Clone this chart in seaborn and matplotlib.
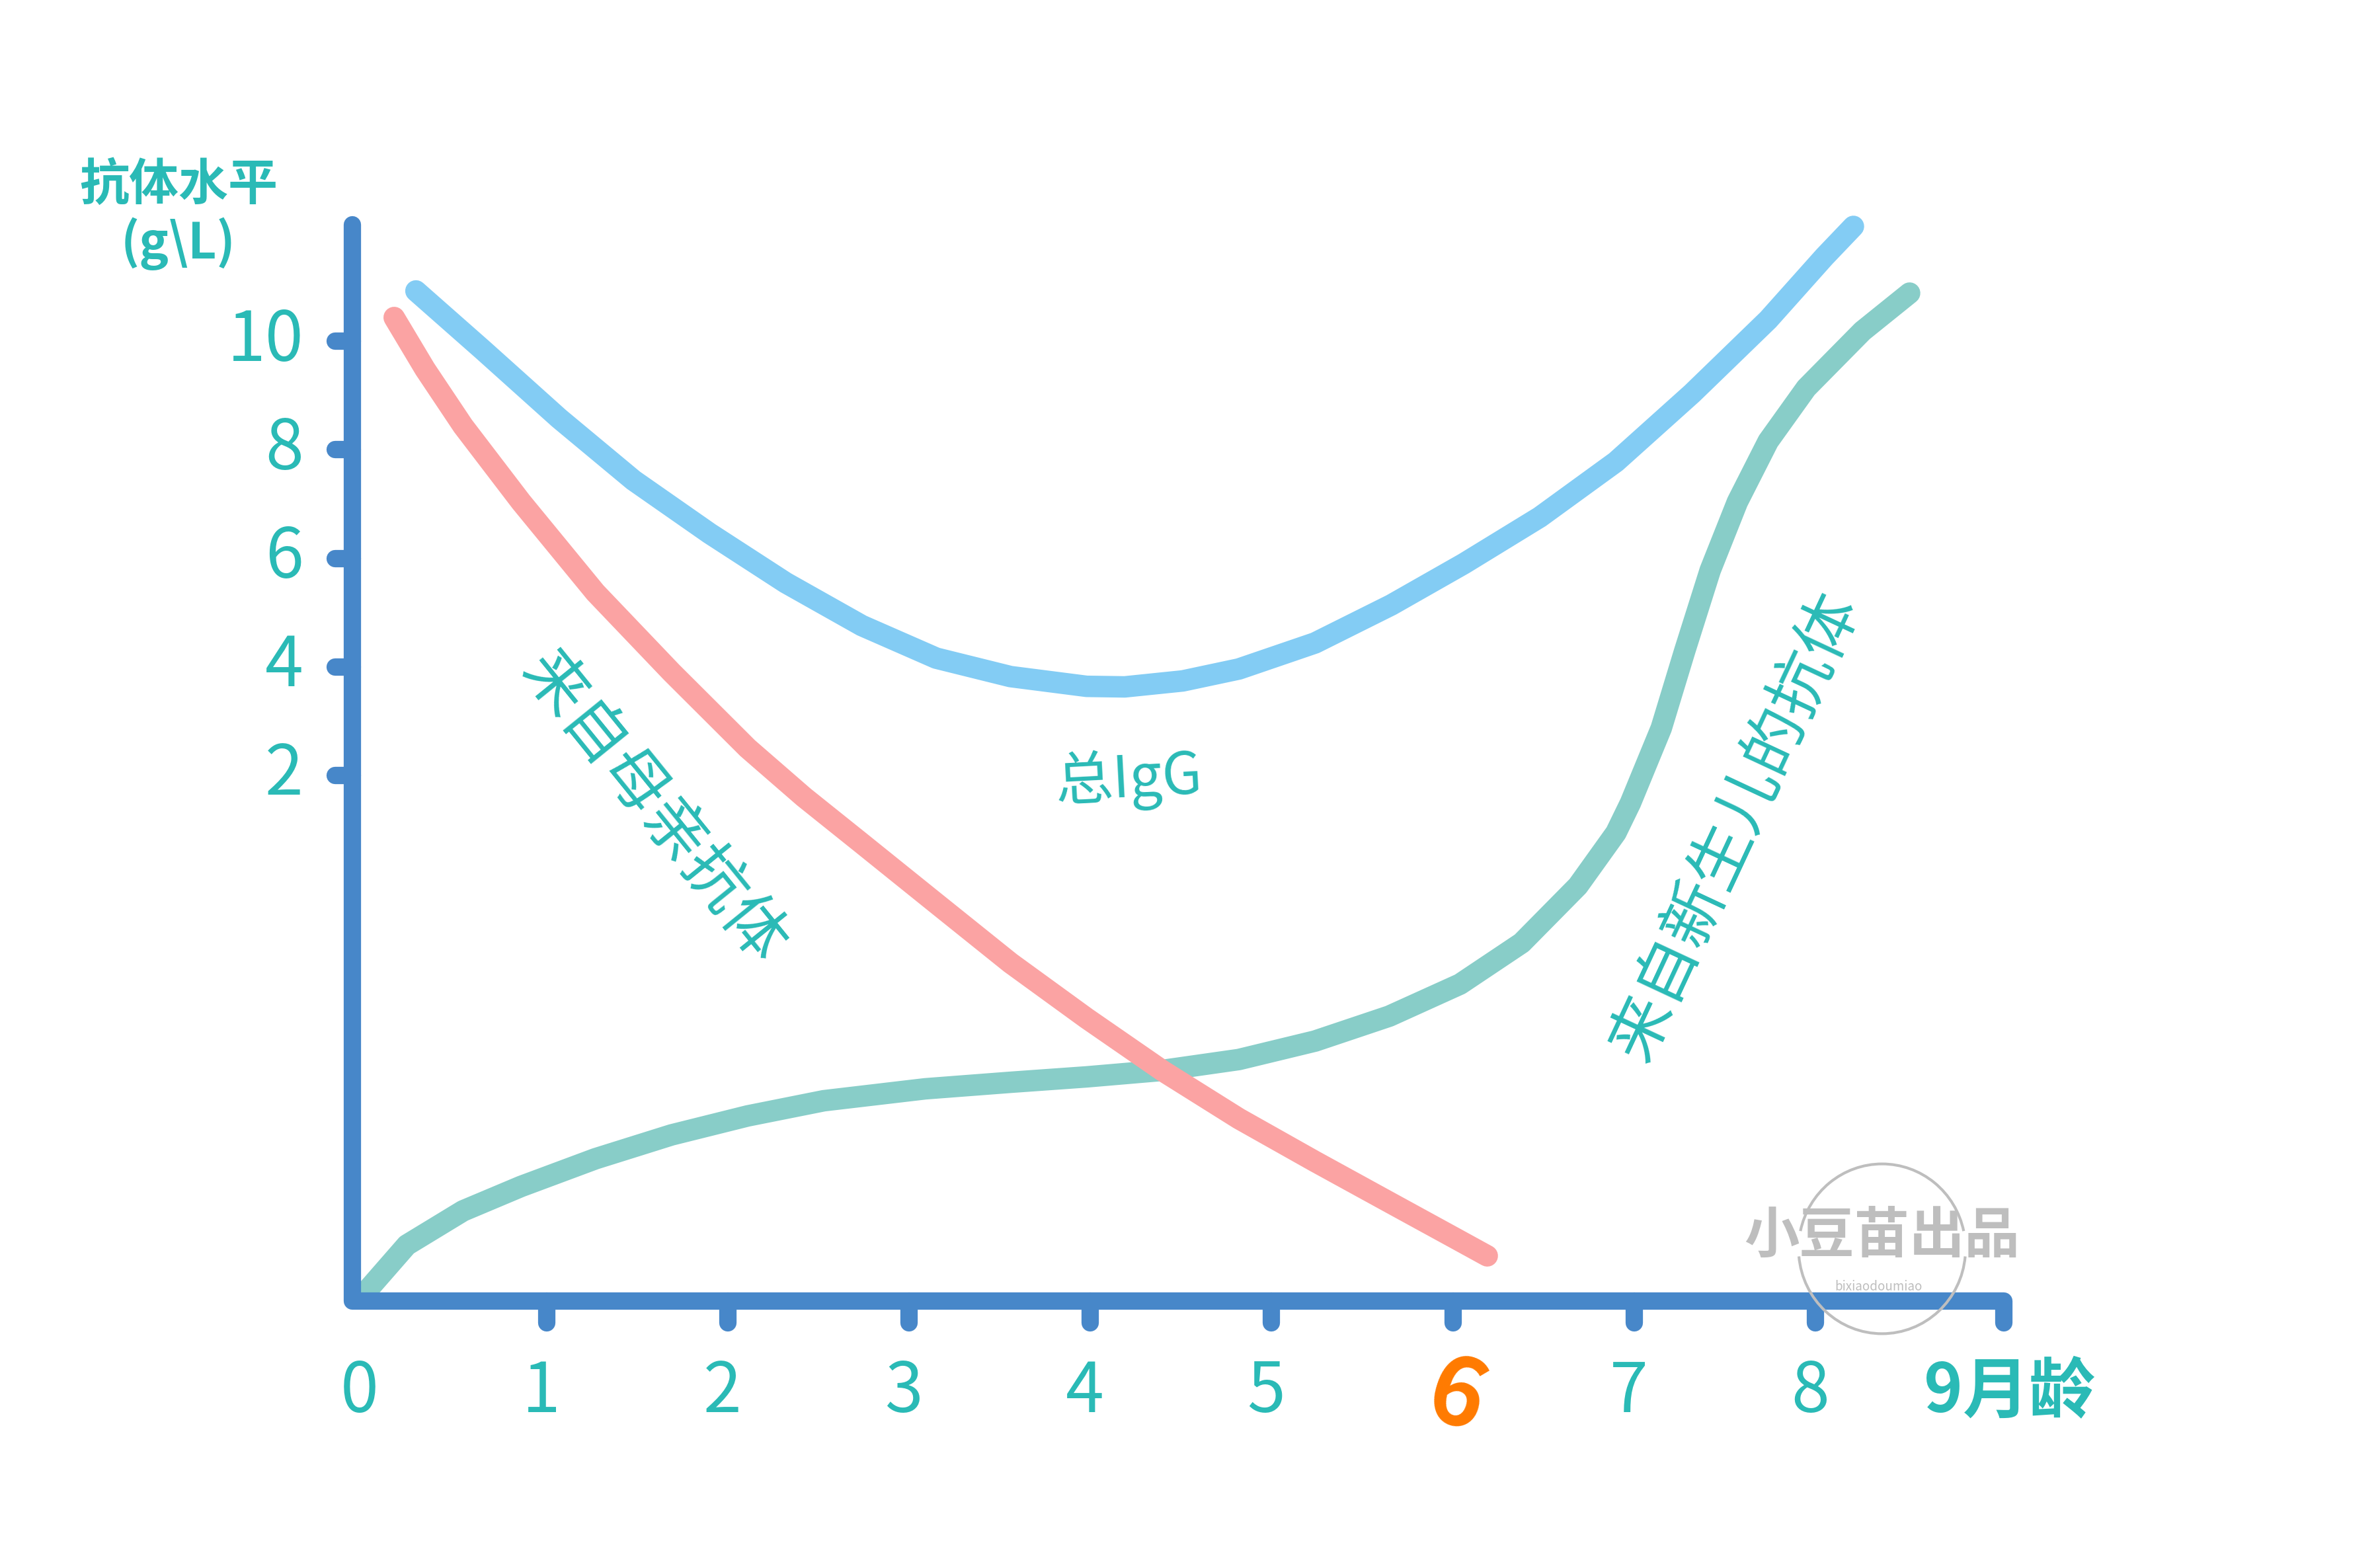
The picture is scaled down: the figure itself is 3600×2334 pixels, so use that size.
import matplotlib
matplotlib.use("Agg")
import matplotlib.pyplot as plt
import seaborn as sns
import pandas as pd
from matplotlib.patches import Arc

# ---------------- data (months, g/L on the chart's own scale) ----------------
total_x = [0.28, 0.65, 1.07, 1.48, 1.90, 2.32, 2.74, 3.15, 3.56, 3.98, 4.19, 4.51,
           4.82, 5.24, 5.66, 6.06, 6.48, 6.90, 7.32, 7.74, 8.05, 8.21]
total_y = [10.93, 9.84, 8.58, 7.44, 6.46, 5.55, 4.76, 4.16, 3.82, 3.64, 3.63, 3.74,
           3.96, 4.44, 5.14, 5.90, 6.76, 7.78, 9.04, 10.40, 11.56, 12.12]

mother_x = [0.16, 0.33, 0.54, 0.86, 1.27, 1.69, 2.11, 2.42, 2.73, 3.15, 3.56, 3.98,
            4.40, 4.82, 5.24, 5.66, 6.01, 6.19]
mother_y = [10.44, 9.49, 8.44, 7.04, 5.37, 3.90, 2.50, 1.60, 0.77, -0.36, -1.46, -2.48,
            -3.45, -4.33, -5.12, -5.89, -6.53, -6.86]

baby_x = [0.00, 0.23, 0.54, 0.86, 1.27, 1.69, 2.11, 2.53, 3.09, 3.56, 3.98, 4.40, 4.82,
          5.24, 5.65, 6.04, 6.38, 6.69, 6.90, 6.98, 7.15, 7.28, 7.42, 7.57, 7.74, 7.95,
          8.26, 8.52]
baby_y = [-7.54, -6.66, -6.03, -5.58, -5.07, -4.63, -4.28, -4.00, -3.78, -3.66, -3.56,
          -3.44, -3.24, -2.90, -2.44, -1.85, -1.09, -0.04, 0.94, 1.49, 2.87, 4.30, 5.78,
          7.04, 8.16, 9.14, 10.19, 10.89]

y_ticks = [10, 8, 6, 4, 2]
x_ticks = [0, 1, 2, 3, 4, 5, 6, 7, 8, 9]
x_tick_labels = ["0", "1", "2", "3", "4", "5", "6", "7", "8", "9月龄"]
y_title = ["抗体水平", "(g\\L)"]
label_mother = "来自母亲抗体"
label_total = "总IgG"
label_baby = "来自新生儿的抗体"
watermark = "小豆苗出品"
watermark_sub = "bixiaodoumiao"

# ---------------- style ----------------
sns.set_theme(style="white")
plt.rcParams["font.family"] = ["Noto Sans CJK SC", "DejaVu Sans"]

C_AXIS = "#4787C9"
C_TOTAL = "#83CCF4"
C_MOTHER = "#FBA3A3"
C_BABY = "#88CDC8"
C_TEXT = "#2ABAB6"
C_ORANGE = "#FF7A00"
C_WM = "#BEBEBE"

fig = plt.figure(figsize=(12, 7.78), dpi=300)
ax = fig.add_axes([0, 0, 1, 1])
ax.set_xlim(-2.0146, 11.115)
ax.set_ylim(-12.154, 16.294)
ax.axis("off")

df_total = pd.DataFrame({"month": total_x, "level": total_y})
df_mother = pd.DataFrame({"month": mother_x, "level": mother_y})
df_baby = pd.DataFrame({"month": baby_x, "level": baby_y})

lw = 7.8
sns.lineplot(data=df_baby, x="month", y="level", sort=False, estimator=None, color=C_BABY,
             linewidth=lw, solid_capstyle="round", solid_joinstyle="round", ax=ax, zorder=2)
sns.lineplot(data=df_total, x="month", y="level", sort=False, estimator=None, color=C_TOTAL,
             linewidth=lw, solid_capstyle="round", solid_joinstyle="round", ax=ax, zorder=2)
sns.lineplot(data=df_mother, x="month", y="level", sort=False, estimator=None, color=C_MOTHER,
             linewidth=lw, solid_capstyle="round", solid_joinstyle="round", ax=ax, zorder=3)

# ---------------- axes drawn as hand-style strokes ----------------
x0 = -0.072          # y-axis position (months)
y_base = -7.69       # x-axis position (level)
y_top = 12.15
x_end = 9.04
tick_down = -8.10
tick_left = -0.164
alw = 6.3
ax.plot([x0, x0, x_end, x_end], [y_top, y_base, y_base, tick_down], color=C_AXIS, lw=alw,
        solid_capstyle="round", solid_joinstyle="round", zorder=4)
for yt in y_ticks:
    ax.plot([tick_left, x0], [yt, yt], color=C_AXIS, lw=alw, solid_capstyle="round", zorder=4)
for xt in x_ticks[1:-1]:
    ax.plot([xt, xt], [y_base, tick_down], color=C_AXIS, lw=alw, solid_capstyle="round", zorder=4)

# ---------------- tick labels ----------------
for yt in y_ticks:
    ax.text(-0.34, yt, str(yt), ha="right", va="center", fontsize=25, color=C_TEXT,
            fontweight="medium")
for xt, lab in zip(x_ticks, x_tick_labels):
    if lab == "6":
        ax.text(xt + 0.02, -9.50, lab, ha="center", va="center", fontsize=34, color=C_ORANGE,
                fontweight="bold", rotation=-18)
    elif xt == 9:
        ax.text(xt + 0.07, -9.38, lab, ha="center", va="center", fontsize=24, color=C_TEXT,
                fontweight="bold")
    else:
        ax.text(xt - 0.03, -9.38, lab, ha="center", va="center", fontsize=25, color=C_TEXT,
                fontweight="medium")

# ---------------- titles / annotations ----------------
ax.text(-1.03, 12.88, y_title[0], ha="center", va="center", fontsize=18, color=C_TEXT,
        fontweight="bold")
ax.text(-1.03, 11.80, y_title[1], ha="center", va="center", fontsize=18, color=C_TEXT,
        fontweight="bold")
ax.text(1.59, 1.40, label_mother, ha="center", va="center", fontsize=23, color=C_TEXT,
        rotation=-51, rotation_mode="anchor")
ax.text(4.21, 1.92, label_total, ha="center", va="center", fontsize=21, color=C_TEXT,
        rotation=3)
ax.text(7.56, 1.05, label_baby, ha="center", va="center", fontsize=23, color=C_TEXT,
        rotation=65, rotation_mode="anchor")

# ---------------- watermark ----------------
wx, wy = 8.368, -6.73
ax.add_patch(Arc((wx, wy), 0.921, 3.13, theta1=36, theta2=144, color=C_WM, lw=1.0, zorder=6))
ax.add_patch(Arc((wx, wy), 0.921, 3.13, theta1=197, theta2=343, color=C_WM, lw=1.0, zorder=6))
ax.text(wx, -6.50, watermark, ha="center", va="center", fontsize=20, color=C_WM,
        fontweight="bold", zorder=6)
ax.text(wx - 0.02, -7.43, watermark_sub, ha="center", va="center", fontsize=4.5, color=C_WM,
        zorder=6)

fig.savefig("out.png", dpi=300, facecolor="white")
